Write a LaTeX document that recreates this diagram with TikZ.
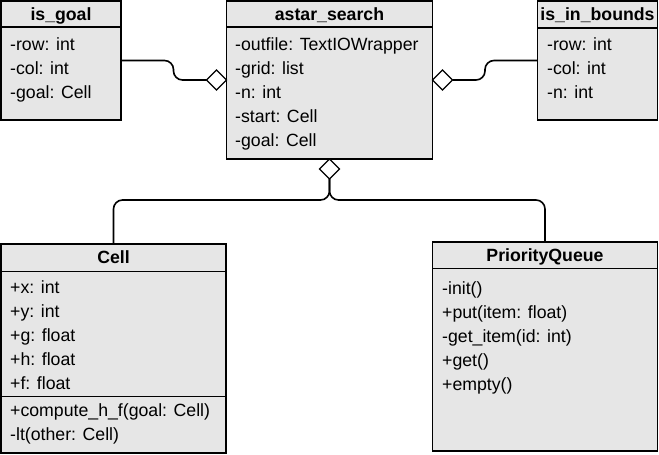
\documentclass[tikz,border=0pt]{standalone}
\usepackage{fontspec}
\setmainfont{Liberation Sans}
\usetikzlibrary{shapes.geometric}
\definecolor{boxfill}{HTML}{E6E6E6}
\tikzset{
  box/.style={draw=black, fill=boxfill, line width=1.2pt, rectangle, anchor=north west, inner sep=0pt, outer sep=0pt},
  hdr/.style={font=\fontsize{17.7}{20}\selectfont\bfseries, anchor=base, inner sep=0pt},
  attr/.style={font=\fontsize{17.7}{20}\selectfont, anchor=base west, inner sep=0pt},
  sep/.style={line width=1.2pt},
  conn/.style={line width=1.6pt, rounded corners=9pt},
  agg/.style={diamond, draw=black, fill=white, line width=1.4pt, minimum width=20pt, minimum height=20pt, inner sep=0pt, outer sep=0pt}
}
\begin{document}
\begin{tikzpicture}[x=1pt,y=-1pt]
\useasboundingbox (0,0) rectangle (659,455);

% ---- is_goal
\node[box, minimum width=120pt, minimum height=119pt] (goal) at (1,1) {};
\draw[sep] (1,27) -- (121,27);
\node[hdr] (goalh) at (61,20) {is\_goal};
\node[attr] (g1) at (10,50) {-row: int};
\node[attr] (g2) at (10,74) {-col: int};
\node[attr] (g3) at (10,98) {-goal: Cell};

% ---- astar_search
\node[box, minimum width=206pt, minimum height=158pt] (astar) at (226.5,1) {};
\draw[sep] (226.5,27) -- (432.5,27);
\node[hdr] (astarh) at (329.5,20) {astar\_search};
\node[attr] (a1) at (235,50) {-outfile: TextIOWrapper};
\node[attr] (a2) at (235,74) {-grid: list};
\node[attr] (a3) at (235,98) {-n: int};
\node[attr] (a4) at (235,122) {-start: Cell};
\node[attr] (a5) at (235,146) {-goal: Cell};

% ---- is_in_bounds
\node[box, minimum width=120pt, minimum height=119pt] (bounds) at (537.5,1) {};
\draw[sep] (537.5,28) -- (657.5,28);
\node[hdr] (boundsh) at (597.5,20) {is\_in\_bounds};
\node[attr] (b1) at (547,50) {-row: int};
\node[attr] (b2) at (547,74) {-col: int};
\node[attr] (b3) at (547,98) {-n: int};

% ---- Cell
\node[box, minimum width=225pt, minimum height=209pt] (cell) at (1,244) {};
\draw[sep] (1,271.5) -- (226,271.5);
\draw[sep] (1,396.5) -- (226,396.5);
\node[hdr] (cellh) at (113.5,263) {Cell};
\node[attr] (c1) at (10,293) {+x: int};
\node[attr] (c2) at (10,317) {+y: int};
\node[attr] (c3) at (10,341) {+g: float};
\node[attr] (c4) at (10,365) {+h: float};
\node[attr] (c5) at (10,389) {+f: float};
\node[attr] (c6) at (10,416) {+compute\_h\_f(goal: Cell)};
\node[attr] (c7) at (10,440) {-lt(other: Cell)};

% ---- PriorityQueue
\node[box, minimum width=225pt, minimum height=209pt] (pq) at (432.5,242) {};
\draw[sep] (432.5,268.5) -- (657.5,268.5);
\node[hdr] (pqh) at (545,261) {PriorityQueue};
\node[attr] (p1) at (442,294) {-init()};
\node[attr] (p2) at (442,318) {+put(item: float)};
\node[attr] (p3) at (442,342) {-get\_item(id: int)};
\node[attr] (p4) at (442,366) {+get()};
\node[attr] (p5) at (442,390) {+empty()};

% ---- aggregation diamonds
\node[agg, anchor=east] (dl) at (astar.west) {};
\node[agg, anchor=west] (dr) at (astar.east) {};
\node[agg, anchor=north] (db) at (astar.south) {};

% ---- connectors
\coordinate (lbend) at (173.5,80);
\coordinate (rbend) at (485,80);
\coordinate (split) at (db.south |- 0,200);
\draw[conn] (goal.east) -| (lbend) -- (dl.west);
\draw[conn] (bounds.west) -| (rbend) -- (dr.east);
\draw[conn] (db.south) -- (split) -| (cell.north);
\draw[conn] (db.south) -- (split) -| (pq.north);
\end{tikzpicture}
\end{document}
